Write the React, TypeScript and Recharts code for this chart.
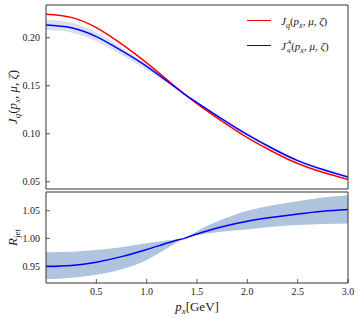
import React from 'react';
import { ComposedChart, Line, Area, XAxis, YAxis, Legend } from 'recharts';

const px = [0, 0.25, 0.5, 0.75, 1.0, 1.25, 1.375, 1.5, 1.75, 2.0, 2.25, 2.5, 2.75, 3.0];
const jq = [0.2245, 0.2212, 0.2105, 0.1935, 0.1738, 0.1520, 0.1413, 0.1313, 0.1128, 0.096, 0.0815, 0.069, 0.0598, 0.0522];
const jqA = [0.2132, 0.2104, 0.2012, 0.1866, 0.1702, 0.1510, 0.1413, 0.1325, 0.1152, 0.099, 0.0846, 0.072, 0.0627, 0.0549];
const jqALow = [0.2080, 0.2055, 0.1963, 0.1820, 0.1667, 0.1501, 0.1413, 0.1321, 0.1142, 0.0976, 0.0832, 0.0706, 0.0613, 0.0536];
const jqAHigh = [0.2188, 0.2159, 0.2058, 0.1899, 0.1721, 0.1513, 0.1413, 0.1333, 0.1167, 0.1008, 0.0864, 0.0735, 0.0642, 0.0563];
const rJet = [0.949, 0.951, 0.957, 0.967, 0.98, 0.994, 1.0, 1.008, 1.021, 1.031, 1.038, 1.044, 1.049, 1.052];
const rLow = [0.926, 0.929, 0.934, 0.944, 0.961, 0.987, 1.0, 1.006, 1.012, 1.016, 1.021, 1.024, 1.026, 1.027];
const rHigh = [0.975, 0.976, 0.979, 0.984, 0.991, 0.997, 1.0, 1.013, 1.034, 1.05, 1.06, 1.067, 1.074, 1.078];
const xTicks = [0.5, 1.0, 1.5, 2.0, 2.5, 3.0];
const topYTicks = [0.05, 0.1, 0.15, 0.2];
const botYTicks = [0.95, 1.0, 1.05];

const FONT = "'Liberation Serif', 'Times New Roman', serif";
const AX = '#333';
const tickStyle = { fontSize: 10, fill: '#222', fontFamily: FONT };
const axisLine = { stroke: AX, strokeWidth: 1 };
const tickLine = { stroke: AX, strokeWidth: 0.8 };

const TopYLabel = (props: any) => {
  const vb = props.viewBox || { y: 5, height: 184 };
  const cy = vb.y + vb.height / 2;
  const cx = 13;
  return (
    <text transform={`rotate(-90 ${cx} ${cy})`} x={cx} y={cy + 4} textAnchor="middle" style={{ fontFamily: FONT }} fontSize={13} fill="#222">
      <tspan fontStyle="italic">J</tspan>
      <tspan fontStyle="italic" fontSize={9} dy={3}>q</tspan>
      <tspan dy={-3}>(</tspan>
      <tspan fontStyle="italic">p</tspan>
      <tspan fontStyle="italic" fontSize={9} dy={3}>x</tspan>
      <tspan dy={-3}>, </tspan>
      <tspan fontStyle="italic">μ</tspan>
      <tspan>, </tspan>
      <tspan fontStyle="italic">ζ</tspan>
      <tspan>)</tspan>
    </text>
  );
};

const BotYLabel = (props: any) => {
  const vb = props.viewBox || { y: 6, height: 91 };
  const cy = vb.y + vb.height / 2;
  const cx = 13;
  return (
    <text transform={`rotate(-90 ${cx} ${cy})`} x={cx} y={cy + 4} textAnchor="middle" style={{ fontFamily: FONT }} fontSize={13} fill="#222">
      <tspan fontStyle="italic">R</tspan>
      <tspan fontSize={9} dy={3}>jet</tspan>
    </text>
  );
};

const XLabel = (props: any) => {
  const vb = props.viewBox || { x: 46, y: 97, width: 302 };
  const cx = vb.x + vb.width / 2;
  return (
    <text x={cx} y={vb.y + 28} textAnchor="middle" style={{ fontFamily: FONT }} fontSize={13} fill="#222">
      <tspan fontStyle="italic">p</tspan>
      <tspan fontStyle="italic" fontSize={9} dy={3}>x</tspan>
      <tspan dy={-3}>[GeV]</tspan>
    </text>
  );
};

const LegendContent = () => {
  const row: React.CSSProperties = { display: 'flex', alignItems: 'center', height: 25, fontFamily: FONT, fontSize: 11, color: '#222', whiteSpace: 'nowrap' };
  const sub: React.CSSProperties = { fontSize: 8, fontStyle: 'italic', position: 'relative', top: 3 };
  return (
    <div>
      <div style={row}>
        <div style={{ width: 24, height: 0, borderTop: '1.5px solid #ff0000', marginRight: 10 }} />
        <span>
          <i>J</i><span style={sub}>q</span>(<i>p</i><span style={sub}>x</span>, <i>μ</i>, <i>ζ</i>)
        </span>
      </div>
      <div style={row}>
        <div style={{ width: 24, height: 0, borderTop: '1.5px solid #0000ff', marginRight: 10 }} />
        <span style={{ display: 'inline-flex', alignItems: 'center' }}>
          <i>J</i>
          <span style={{ display: 'inline-flex', flexDirection: 'column', fontSize: 7, lineHeight: '8px', fontStyle: 'italic', marginLeft: 1 }}>
            <span>A</span><span>q</span>
          </span>
          <span>(<i>p</i><span style={sub}>x</span>, <i>μ</i>, <i>ζ</i>)</span>
        </span>
      </div>
    </div>
  );
};

export default function App() {
  const data = px.map((p, i) => ({
    p,
    jq: jq[i],
    jqA: jqA[i],
    band: [jqALow[i], jqAHigh[i]],
    r: rJet[i],
    rBand: [rLow[i], rHigh[i]],
  }));
  return (
    <div style={{ position: 'absolute', left: 0, top: 0, width: 362, height: 319, background: '#fff' }}>
      <div style={{ position: 'absolute', left: 0, top: 0 }}>
        <ComposedChart width={362} height={195} data={data} margin={{ top: 0, right: 0, bottom: 0, left: 0 }}>
          <XAxis xAxisId="b" dataKey="p" type="number" domain={[0, 3]} ticks={xTicks} tick={false} tickSize={-4} height={6} axisLine={axisLine} tickLine={tickLine} allowDataOverflow />
          <XAxis xAxisId="t" orientation="top" dataKey="p" type="number" domain={[0, 3]} ticks={xTicks} tick={false} tickSize={-4} height={5} axisLine={axisLine} tickLine={tickLine} allowDataOverflow />
          <YAxis yAxisId="l" type="number" domain={[0.0424, 0.2341]} ticks={topYTicks} tickSize={-4} tickMargin={10} width={46} axisLine={axisLine} tickLine={tickLine}
            tickFormatter={(v: number) => v.toFixed(2)} tick={tickStyle} allowDataOverflow label={{ content: TopYLabel }} />
          <YAxis yAxisId="r" orientation="right" type="number" domain={[0.0424, 0.2341]} ticks={topYTicks} tickSize={-4} tick={false} width={14} axisLine={axisLine} tickLine={tickLine} allowDataOverflow />
          <Area xAxisId="b" yAxisId="l" type="natural" dataKey="band" stroke="none" fill="#b0c4de" fillOpacity={0.5} isAnimationActive={false} />
          <Line xAxisId="b" yAxisId="l" type="natural" dataKey="jq" stroke="#ff0000" strokeWidth={1.5} dot={false} isAnimationActive={false} />
          <Line xAxisId="b" yAxisId="l" type="natural" dataKey="jqA" stroke="#0000ff" strokeWidth={1.5} dot={false} isAnimationActive={false} />
          <Legend content={LegendContent} layout="horizontal" verticalAlign="middle" align="center" wrapperStyle={{ position: 'absolute', left: 247, top: 8, width: 112 }} />
        </ComposedChart>
      </div>
      <div style={{ position: 'absolute', left: 0, top: 186 }}>
        <ComposedChart width={362} height={133} data={data} margin={{ top: 0, right: 0, bottom: 0, left: 0 }}>
          <XAxis xAxisId="b" dataKey="p" type="number" domain={[0, 3]} ticks={xTicks} tickSize={-4} tickMargin={9} height={36} axisLine={axisLine} tickLine={tickLine}
            tickFormatter={(v: number) => v.toFixed(1)} tick={tickStyle} allowDataOverflow label={{ content: XLabel }} />
          <XAxis xAxisId="t" orientation="top" dataKey="p" type="number" domain={[0, 3]} ticks={xTicks} tick={false} tickSize={-4} height={6} axisLine={axisLine} tickLine={tickLine} allowDataOverflow />
          <YAxis yAxisId="l" type="number" domain={[0.9193, 1.0838]} ticks={botYTicks} tickSize={-4} tickMargin={10} width={46} axisLine={axisLine} tickLine={tickLine}
            tickFormatter={(v: number) => v.toFixed(2)} tick={tickStyle} allowDataOverflow label={{ content: BotYLabel }} />
          <YAxis yAxisId="r" orientation="right" type="number" domain={[0.9193, 1.0838]} ticks={botYTicks} tickSize={-4} tick={false} width={14} axisLine={axisLine} tickLine={tickLine} allowDataOverflow />
          <Area xAxisId="b" yAxisId="l" type="natural" dataKey="rBand" stroke="none" fill="#b0c4de" fillOpacity={1} isAnimationActive={false} />
          <Line xAxisId="b" yAxisId="l" type="natural" dataKey="r" stroke="#0000ff" strokeWidth={1.5} dot={false} isAnimationActive={false} />
        </ComposedChart>
      </div>
    </div>
  );
}
